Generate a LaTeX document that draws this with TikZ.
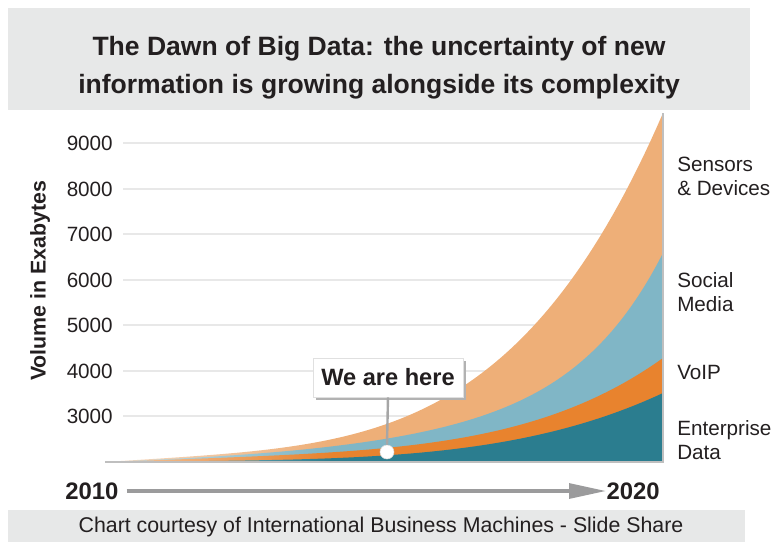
\documentclass[tikz,border=0pt]{standalone}
\usepackage{fontspec}
\setmainfont{Liberation Sans}
\usetikzlibrary{arrows.meta,fadings}
\definecolor{cS}{HTML}{EEAF78}
\definecolor{cM}{HTML}{80B6C6}
\definecolor{cV}{HTML}{E8832E}
\definecolor{cE}{HTML}{2B7D8F}
\definecolor{grid}{HTML}{E8E8E8}
\definecolor{band}{HTML}{E7E8E8}
\definecolor{ink}{HTML}{231F20}
\definecolor{arrowgray}{HTML}{9B9B9C}
\tikzfading[name=leftfade, left color=transparent!45, right color=transparent!100]
\begin{document}
\begin{tikzpicture}[x=0.75pt,y=-0.75pt,
  every node/.style={text=ink, inner sep=0pt},
  ytick/.style={anchor=east, font=\fontsize{15.5}{18}\selectfont},
  rlabel/.style={anchor=west, align=left, font=\fontsize{15.5}{18}\selectfont},
  year/.style={font=\fontsize{17.9}{20}\selectfont\bfseries},
  gridline/.style={grid, line width=2.2pt},
  bandbox/.style={fill=band, draw=none},
  pointer/.style={draw=black!35, line width=1.8pt}
]
\useasboundingbox (0,0) rectangle (782,544);
% title band
\fill[bandbox] (8,8) rectangle (750,110);
\node[align=center, font=\fontsize{19.9}{28.5}\selectfont\bfseries] (title) at (379,68)
  {The Dawn of Big Data: the uncertainty of new\\information is growing alongside its complexity};
% gridlines
\foreach \v/\yy in {9000/143,8000/189,7000/234,6000/280,5000/325,4000/371,3000/416}{
  \draw[gridline] (123,\yy) -- (663,\yy);
  \node[ytick] (t\v) at (113,\yy) {\v};
}
% areas
\fill[cS] plot[domain=0:1, samples=90] ({105+558*\x},{462-35*\x-314*\x^4}) -- (663,462) -- (105,462) -- cycle;
\fill[cM] plot[domain=0:1, samples=90] ({105+558*\x},{462-25*\x-80*\x^3-104*\x^8}) -- (663,462) -- (105,462) -- cycle;
\fill[cV] plot[domain=0:1, samples=90] ({105+558*\x},{462-20*\x-40*\x^4-44*\x^5}) -- (663,462) -- (105,462) -- cycle;
\fill[cE] plot[domain=0:1, samples=90] ({105+558*\x},{462-5*\x-64*\x^4}) -- (663,462) -- (105,462) -- cycle;
\fill[white, path fading=leftfade] (105,425) rectangle (330,463);
\draw[black!25, line width=1.2pt] (105,462) -- (663,462) -- (663,113);
% y label
\node[rotate=90, font=\fontsize{16}{18}\selectfont\bfseries] (ylab) at (40,281) {Volume in Exabytes};
% right labels
\node[rlabel] (sens) at (677,176) {Sensors\\\& Devices};
\node[rlabel] (soc) at (677,292) {Social\\Media};
\node[rlabel] (voip) at (677,372) {VoIP};
\node[rlabel] (ent) at (677,440) {Enterprise\\Data};
% we are here
\fill[black!30] (316,361) rectangle (466,400);
\node[fill=white, draw=black!12, minimum width=150*0.75pt, minimum height=39*0.75pt,
  font=\fontsize{17.7}{20}\selectfont\bfseries] (here) at (388,377.5) {We are here};
\node[circle, fill=white, draw=black!15, minimum size=14*0.75pt] (dot) at (387,452) {};
\draw[pointer] (here.south) -- (dot.north);
% years and arrow
\node[year, anchor=west] (y10) at (65,491) {2010};
\node[year, anchor=east] (y20) at (660,491) {2020};
\draw[arrowgray, line width=3pt, shorten <=6pt, -{Triangle[length=28pt,width=11pt]}] (y10.east) -- (y20.west);
% footer band
\fill[bandbox] (8,510) rectangle (745,542);
\node[font=\fontsize{16}{18}\selectfont] (foot) at (381,527)
  {Chart courtesy of International Business Machines - Slide Share};
\end{tikzpicture}
\end{document}
